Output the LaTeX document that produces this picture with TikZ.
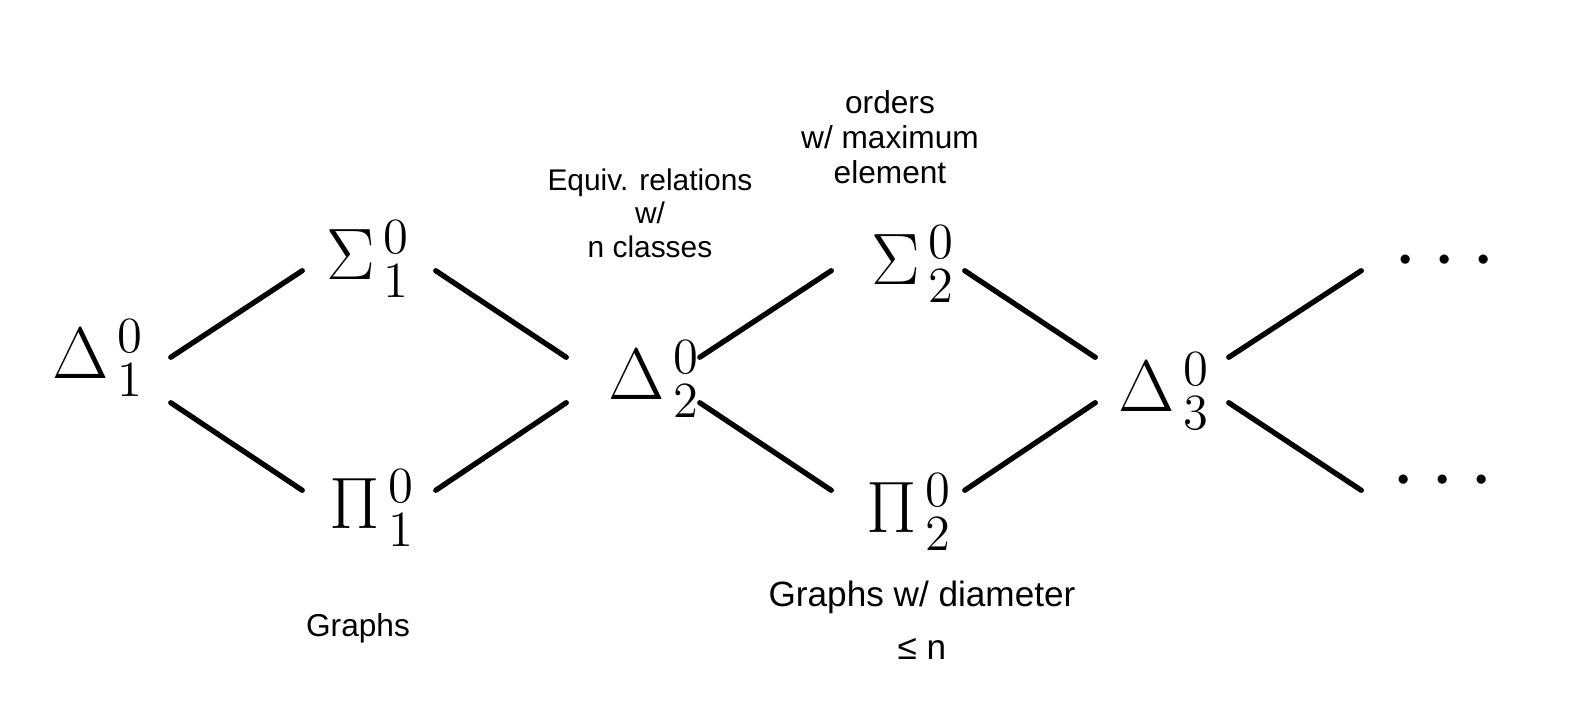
\documentclass[tikz,border=0pt]{standalone}
\usepackage{fontspec}
\setmainfont{Liberation Sans}
\tikzset{
  slot/.style={rectangle, inner sep=0pt, minimum width=1.32cm, minimum height=0.44cm},
  sym/.style={inner sep=0pt, font=\fontsize{20}{24}\selectfont},
  note/.style={align=center, inner sep=0pt, font=\fontsize{9}{10}\selectfont},
  edge/.style={line width=1.5pt, line cap=round},
}
\newcommand{\lvl}[2]{$#1^{\,0}_{\,#2}$}
\begin{document}
\begin{tikzpicture}[x=0.01cm, y=-0.01cm]
\useasboundingbox (0,0) rectangle (1593,721);
% slots the lines hang on
\node[slot] (d1) at (104,380) {};
\node[slot] (s1) at (369,248) {};
\node[slot] (p1) at (369,513) {};
\node[slot] (d2) at (633,380) {};
\node[slot] (s2) at (898,248) {};
\node[slot] (p2) at (898,513) {};
\node[slot] (d3) at (1162,380) {};
\node[slot] (su) at (1428,248) {};
\node[slot] (sd) at (1428,513) {};
% the levels
\node[sym] (D1) at (98,358) {\lvl{\Delta}{1}};
\node[sym] (S1) at (368,259) {\lvl{\Sigma}{1}};
\node[sym] (P1) at (372,508) {\lvl{\Pi}{1}};
\node[sym] (D2) at (654,379) {\lvl{\Delta}{2}};
\node[sym] (S2) at (913,264) {\lvl{\Sigma}{2}};
\node[sym] (P2) at (909,512) {\lvl{\Pi}{2}};
\node[sym] (D3) at (1164,391) {\lvl{\Delta}{3}};
\node[sym, font=\fontsize{30}{32}\selectfont] (up) at (1445,262) {$\cdots$};
\node[sym, font=\fontsize{30}{32}\selectfont] (dn) at (1443,482) {$\cdots$};
% lines
\draw[edge] (d1.north east) -- (s1.south west);
\draw[edge] (d1.south east) -- (p1.north west);
\draw[edge] (s1.south east) -- (d2.north west);
\draw[edge] (p1.north east) -- (d2.south west);
\draw[edge] (d2.north east) -- (s2.south west);
\draw[edge] (d2.south east) -- (p2.north west);
\draw[edge] (s2.south east) -- (d3.north west);
\draw[edge] (p2.north east) -- (d3.south west);
\draw[edge] (d3.north east) -- (su.south west);
\draw[edge] (d3.south east) -- (sd.north west);
% examples
\node[note, font=\fontsize{8.5}{9.5}\selectfont] (equiv) at (650,213) {Equiv. relations\\w/\\n classes};
\node[note] (orders) at (890,137) {orders\\w/ maximum\\element};
\node[note] (graphs) at (358,628) {Graphs};
\node[note, font=\fontsize{10}{11}\selectfont] (diam) at (922,620) {Graphs w/ diameter\\[4pt]≤ n};
\end{tikzpicture}
\end{document}
